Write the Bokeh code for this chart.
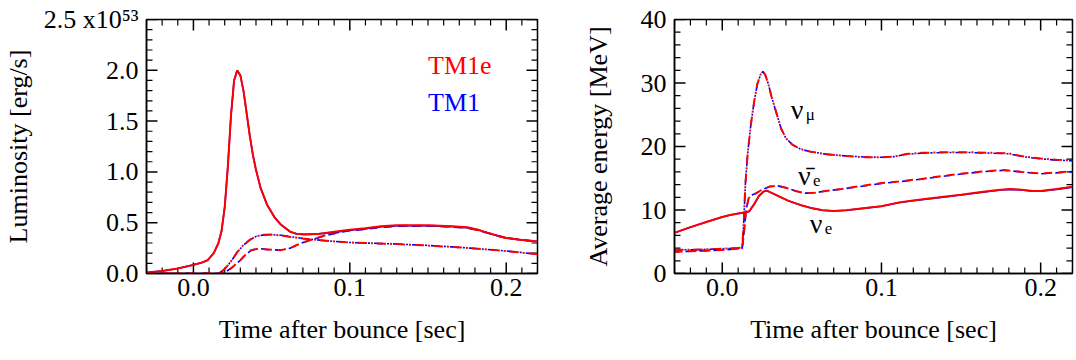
from bokeh.plotting import figure
from bokeh.models import Label, SingleIntervalTicker, CustomJSTickFormatter, Range1d
from bokeh.layouts import row
from bokeh.embed import file_html
from bokeh.resources import INLINE

FONT = "Liberation Serif"
RED = "#ff0000"
BLUE = "#0000ff"
DASH = "8 6"
DASHDOT = "9 4 2 4"

# ---------------- Left panel: luminosity [1e53 erg/s] ----------------
t_lum_nue = [-0.03, -0.02, -0.01, 0.0, 0.005, 0.009, 0.013, 0.016, 0.018, 0.020, 0.022, 0.024,
             0.026, 0.028, 0.030, 0.032, 0.034, 0.036, 0.038, 0.040, 0.043, 0.047, 0.052, 0.056,
             0.062, 0.066, 0.071, 0.080, 0.090, 0.100, 0.110, 0.120, 0.130, 0.150, 0.165, 0.175,
             0.182, 0.188, 0.195, 0.200, 0.210, 0.220]
lum_nue_tm1e = [0.01, 0.025, 0.05, 0.085, 0.105, 0.13, 0.2, 0.3, 0.42, 0.65, 1.05, 1.55,
                1.9, 2.0, 1.95, 1.8, 1.58, 1.36, 1.17, 1.02, 0.84, 0.68, 0.55, 0.48,
                0.41, 0.39, 0.385, 0.39, 0.41, 0.43, 0.445, 0.465, 0.475, 0.475, 0.465, 0.455,
                0.43, 0.40, 0.37, 0.35, 0.33, 0.315]
lum_nue_tm1 = [0.01, 0.025, 0.05, 0.085, 0.105, 0.13, 0.2, 0.3, 0.42, 0.65, 1.05, 1.55,
               1.9, 2.0, 1.95, 1.8, 1.58, 1.36, 1.17, 1.02, 0.84, 0.68, 0.55, 0.48,
               0.41, 0.39, 0.385, 0.39, 0.405, 0.425, 0.44, 0.46, 0.47, 0.47, 0.462, 0.452,
               0.43, 0.40, 0.37, 0.35, 0.33, 0.315]

t_lum_nuebar = [-0.03, 0.0, 0.018, 0.021, 0.024, 0.027, 0.030, 0.033, 0.037, 0.042, 0.048, 0.056,
                0.062, 0.066, 0.071, 0.077, 0.085, 0.094, 0.100, 0.110, 0.120, 0.130, 0.150, 0.165,
                0.175, 0.182, 0.188, 0.195, 0.200, 0.210, 0.220]
lum_nuebar_tm1e = [0.0, 0.0, 0.0, 0.02, 0.05, 0.09, 0.13, 0.18, 0.23, 0.245, 0.235, 0.23,
                   0.25, 0.28, 0.31, 0.34, 0.38, 0.41, 0.425, 0.44, 0.46, 0.47, 0.47, 0.46,
                   0.45, 0.425, 0.40, 0.37, 0.35, 0.33, 0.315]
lum_nuebar_tm1 = [0.0, 0.0, 0.0, 0.02, 0.05, 0.09, 0.13, 0.18, 0.23, 0.245, 0.235, 0.23,
                  0.25, 0.28, 0.31, 0.34, 0.375, 0.405, 0.42, 0.435, 0.455, 0.465, 0.468, 0.458,
                  0.448, 0.425, 0.40, 0.37, 0.35, 0.33, 0.315]

t_lum_numu = [-0.03, 0.0, 0.016, 0.019, 0.022, 0.025, 0.028, 0.032, 0.036, 0.040, 0.045, 0.050,
              0.056, 0.062, 0.070, 0.077, 0.087, 0.100, 0.110, 0.130, 0.150, 0.165, 0.177, 0.190,
              0.200, 0.210, 0.220]
lum_numu_tm1e = [0.0, 0.0, 0.0, 0.03, 0.08, 0.14, 0.21, 0.28, 0.33, 0.365, 0.382, 0.383,
                 0.375, 0.36, 0.345, 0.334, 0.32, 0.305, 0.30, 0.29, 0.275, 0.262, 0.25, 0.233,
                 0.22, 0.205, 0.19]
lum_numu_tm1 = [0.0, 0.0, 0.0, 0.03, 0.08, 0.14, 0.21, 0.28, 0.33, 0.365, 0.38, 0.382,
                0.376, 0.362, 0.345, 0.334, 0.32, 0.305, 0.30, 0.29, 0.276, 0.262, 0.25, 0.234,
                0.222, 0.206, 0.19]

# ---------------- Right panel: average energy [MeV] ----------------
t_e_nue = [-0.03, -0.02, -0.01, 0.0, 0.005, 0.010, 0.013, 0.015, 0.017, 0.020, 0.023, 0.026,
           0.028, 0.031, 0.036, 0.042, 0.049, 0.056, 0.063, 0.070, 0.078, 0.090, 0.100, 0.111,
           0.121, 0.135, 0.150, 0.165, 0.175, 0.181, 0.188, 0.195, 0.200, 0.210, 0.220]
e_nue_tm1e = [6.4, 7.3, 8.1, 8.9, 9.2, 9.45, 9.55, 9.65, 9.8, 10.9, 12.2, 12.9,
              13.05, 12.7, 12.1, 11.4, 10.8, 10.3, 9.95, 9.85, 9.95, 10.3, 10.6, 11.2,
              11.55, 11.95, 12.4, 12.9, 13.2, 13.3, 13.2, 13.0, 13.0, 13.3, 13.65]
e_nue_tm1 = [6.4, 7.3, 8.1, 8.9, 9.2, 9.45, 9.55, 9.65, 9.8, 10.9, 12.2, 12.9,
             13.05, 12.7, 12.1, 11.4, 10.8, 10.3, 9.95, 9.85, 9.95, 10.3, 10.6, 11.15,
             11.5, 11.9, 12.35, 12.85, 13.15, 13.25, 13.15, 12.95, 12.95, 13.25, 13.6]

t_e_nuebar = [-0.03, -0.01, 0.0, 0.010, 0.0125, 0.0135, 0.015, 0.0165, 0.018, 0.021, 0.025, 0.030,
              0.035, 0.040, 0.046, 0.052, 0.058, 0.065, 0.075, 0.085, 0.099, 0.111, 0.125, 0.140,
              0.151, 0.165, 0.177, 0.188, 0.200, 0.210, 0.220]
e_nuebar_tm1e = [3.4, 3.6, 3.7, 3.9, 3.95, 6.0, 10.0, 11.8, 12.3, 12.6, 13.2, 13.7,
                 13.8, 13.5, 13.0, 12.65, 12.7, 13.0, 13.3, 13.7, 14.2, 14.5, 14.9, 15.4,
                 15.75, 16.1, 16.3, 16.0, 15.75, 15.9, 16.1]
e_nuebar_tm1 = [3.4, 3.6, 3.7, 3.9, 3.95, 6.0, 10.0, 11.8, 12.3, 12.6, 13.2, 13.7,
                13.8, 13.5, 13.0, 12.65, 12.7, 13.0, 13.3, 13.65, 14.15, 14.45, 14.85, 15.35,
                15.7, 16.05, 16.25, 16.0, 15.7, 15.85, 16.05]

t_e_numu = [-0.03, -0.01, 0.0, 0.010, 0.0125, 0.0135, 0.0145, 0.016, 0.018, 0.020, 0.022, 0.024,
            0.0255, 0.027, 0.029, 0.031, 0.034, 0.037, 0.040, 0.044, 0.049, 0.055, 0.065, 0.078,
            0.090, 0.100, 0.108, 0.115, 0.125, 0.140, 0.155, 0.170, 0.180, 0.190, 0.200, 0.210,
            0.220]
e_numu_tm1e = [3.7, 3.8, 3.9, 4.0, 4.1, 8.0, 14.0, 19.0, 23.5, 27.0, 29.8, 31.3,
               31.8, 31.3, 29.8, 27.8, 25.3, 22.8, 21.3, 20.3, 19.6, 19.2, 18.8, 18.5,
               18.3, 18.3, 18.4, 18.8, 19.0, 19.1, 19.1, 19.0, 18.9, 18.4, 18.1, 17.9,
               17.8]
e_numu_tm1 = [3.7, 3.8, 3.9, 4.0, 4.1, 8.0, 14.0, 19.0, 23.5, 27.0, 29.8, 31.3,
              31.8, 31.3, 29.8, 27.8, 25.3, 22.8, 21.3, 20.3, 19.6, 19.2, 18.8, 18.5,
              18.35, 18.3, 18.4, 18.75, 18.95, 19.05, 19.05, 18.95, 18.85, 18.35, 18.05, 17.85,
              17.75]

x_range = (-0.03, 0.22)
lum_range = (0.0, 2.5)
energy_range = (0.0, 40.0)

legend_names = ["TM1e", "TM1"]
flavor_main = ["\u03bd", "\u03bd\u0304", "\u03bd"]
flavor_sub = ["\u03bc", "e", "e"]
flavor_t = [0.043, 0.0475, 0.055]
flavor_e = [25.8, 15.5, 7.9]

FIG_H = 360
B_TOP, B_BOTTOM = 19, 87


def add_ticks(p, frame_w, frame_h, yr, ystep):
    """Inward tick marks on all four sides of the frame."""
    x0, x1 = x_range
    y0, y1 = yr
    dxpx = (x1 - x0) / frame_w
    dypx = (y1 - y0) / frame_h
    for major, tick_len, lw in [(True, 11, 1.5), (False, 6, 1.2)]:
        sx0, sy0, sx1, sy1 = [], [], [], []
        for k in range(-3, 23):
            if (k % 10 == 0) != major:
                continue
            xv = k / 100.0
            sx0 += [xv, xv]
            sx1 += [xv, xv]
            sy0 += [y0, y1]
            sy1 += [y0 + tick_len * dypx, y1 - tick_len * dypx]
        n = int(round((y1 - y0) / (ystep / 5.0)))
        for k in range(0, n + 1):
            if (k % 5 == 0) != major:
                continue
            yv = y0 + k * ystep / 5.0
            sy0 += [yv, yv]
            sy1 += [yv, yv]
            sx0 += [x0, x1]
            sx1 += [x0 + tick_len * dxpx, x1 - tick_len * dxpx]
        p.segment(sx0, sy0, sx1, sy1, line_color="black", line_width=lw)


def make_fig(width, border_left, border_right, yr, ystep, ycode, ylabel, ystand):
    p = figure(width=width, height=FIG_H, output_backend="svg", toolbar_location=None,
               x_range=Range1d(*x_range), y_range=Range1d(*yr),
               min_border_left=border_left, min_border_right=border_right,
               min_border_top=B_TOP, min_border_bottom=B_BOTTOM)
    p.grid.visible = False
    p.outline_line_color = "black"
    p.outline_line_width = 1.5
    p.background_fill_color = "white"
    p.border_fill_color = "white"
    xt = SingleIntervalTicker(interval=0.1, num_minor_ticks=10)
    yt = SingleIntervalTicker(interval=ystep, num_minor_ticks=5)
    bottom = p.below[0]
    left = p.left[0]
    bottom.ticker = xt
    bottom.formatter = CustomJSTickFormatter(code="return tick.toFixed(1);")
    left.ticker = yt
    left.formatter = CustomJSTickFormatter(code=ycode)
    for ax in [bottom, left]:
        ax.axis_line_width = 1.5
        ax.axis_line_color = "black"
        ax.major_tick_line_color = None
        ax.minor_tick_line_color = None
        ax.major_tick_in = 0
        ax.major_tick_out = 0
        ax.minor_tick_in = 0
        ax.minor_tick_out = 0
        ax.major_label_text_font = FONT
        ax.major_label_text_font_size = "26px"
        ax.major_label_text_color = "black"
        ax.axis_label_text_font = FONT
        ax.axis_label_text_font_size = "26px"
        ax.axis_label_text_font_style = "normal"
        ax.axis_label_text_color = "black"
    bottom.axis_label = "Time after bounce [sec]"
    left.axis_label = ylabel
    bottom.axis_label_standoff = 16
    left.axis_label_standoff = ystand
    bottom.major_label_standoff = 5
    left.major_label_standoff = 8
    frame_w = width - border_left - border_right
    frame_h = FIG_H - B_TOP - B_BOTTOM
    add_ticks(p, frame_w, frame_h, yr, ystep)
    return p


def pair(p, t, y_blue, y_red, dash):
    if dash == "solid":
        p.line(t, y_blue, line_color=BLUE, line_width=1.6)
        p.line(t, y_red, line_color=RED, line_width=2)
    else:
        p.line(t, y_blue, line_color=BLUE, line_width=1.6, line_dash=dash, line_dash_offset=3)
        p.line(t, y_red, line_color=RED, line_width=2, line_dash=dash)


# Left figure
p1 = make_fig(560, 145, 23, lum_range, 0.5,
              "return tick > 2.4 ? '2.5 x10\u2075\u00b3' : tick.toFixed(1);",
              "Luminosity [erg/s]", 8)
pair(p1, t_lum_numu, lum_numu_tm1, lum_numu_tm1e, DASHDOT)
pair(p1, t_lum_nuebar, lum_nuebar_tm1, lum_nuebar_tm1e, DASH)
pair(p1, t_lum_nue, lum_nue_tm1, lum_nue_tm1e, "solid")

p1.add_layout(Label(x=0.150, y=2.05, text=legend_names[0], text_font=FONT, text_font_size="26px",
                    text_color=RED, text_align="left", text_baseline="alphabetic"))
p1.add_layout(Label(x=0.150, y=1.685, text=legend_names[1], text_font=FONT, text_font_size="26px",
                    text_color=BLUE, text_align="left", text_baseline="alphabetic"))

# Right figure
p2 = make_fig(516, 114, 4, energy_range, 10,
              "return tick.toFixed(0);", "Average energy [MeV]", 25)
pair(p2, t_e_numu, e_numu_tm1, e_numu_tm1e, DASHDOT)
pair(p2, t_e_nuebar, e_nuebar_tm1, e_nuebar_tm1e, DASH)
pair(p2, t_e_nue, e_nue_tm1, e_nue_tm1e, "solid")

for i in range(3):
    p2.add_layout(Label(x=flavor_t[i], y=flavor_e[i], text=flavor_main[i], text_font=FONT,
                        text_font_size="28px", text_color="black", text_align="left",
                        text_baseline="alphabetic"))
    p2.add_layout(Label(x=flavor_t[i], y=flavor_e[i], text=flavor_sub[i], text_font=FONT,
                        text_font_size="17px", text_color="black", text_align="left",
                        text_baseline="alphabetic", x_offset=15, y_offset=-5))

layout = row(p1, p2)
open("out.html", "w").write(file_html(layout, INLINE))
